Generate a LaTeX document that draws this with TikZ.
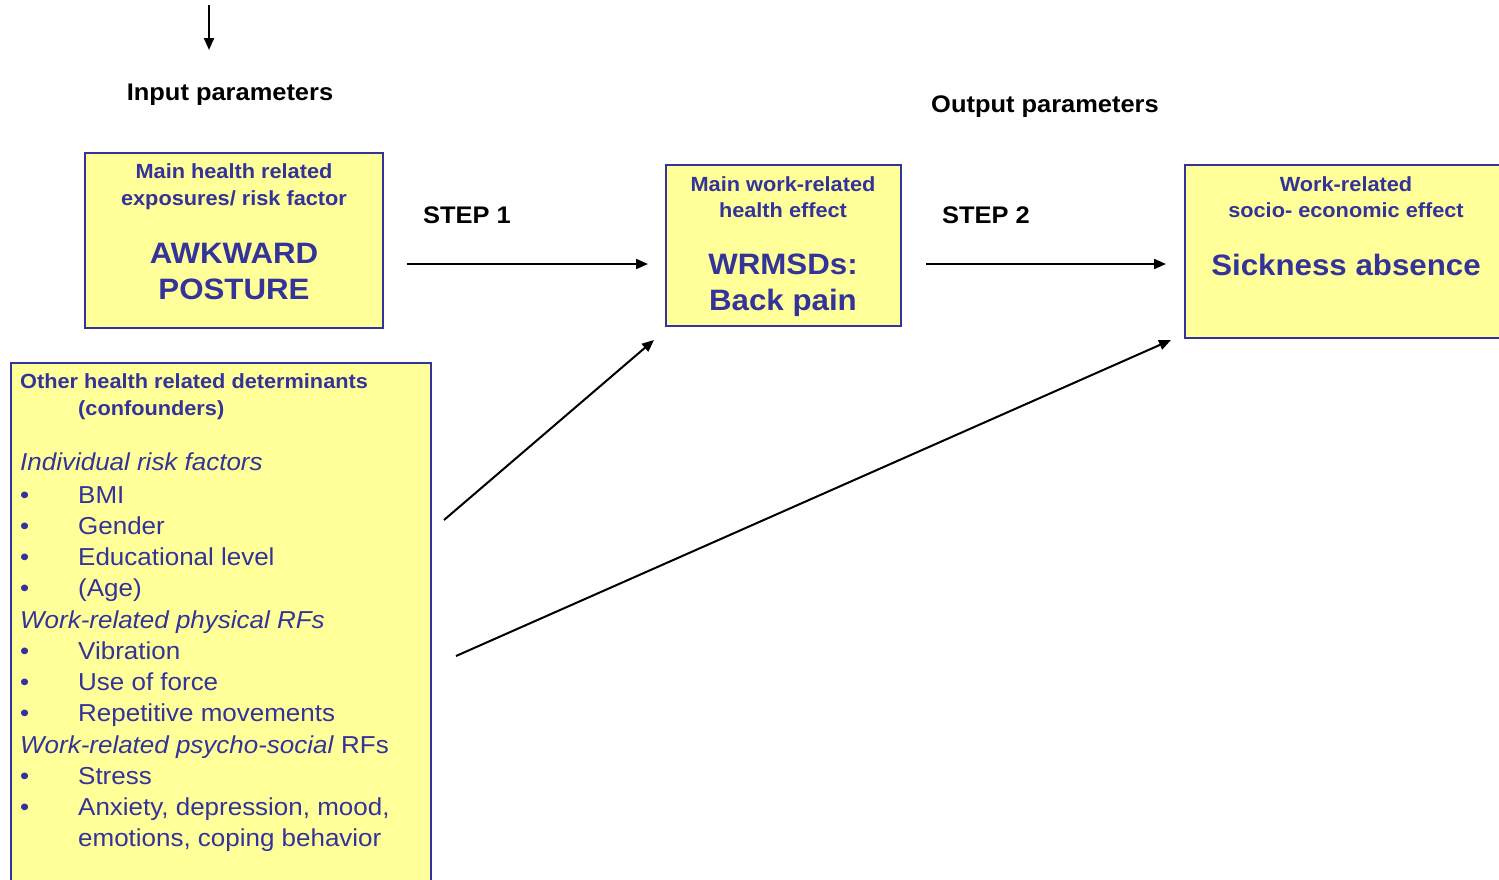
\documentclass[tikz,border=0pt]{standalone}
\usepackage{fontspec}
\setmainfont[FakeStretch=1.06]{Liberation Sans}
\usetikzlibrary{arrows.meta}
\definecolor{navy}{RGB}{51,51,153}
\definecolor{paleyellow}{RGB}{255,255,153}

\begin{document}
\begin{tikzpicture}[x=1pt,y=-1pt,
  box/.style={draw=navy, fill=paleyellow, line width=1.5pt},
  title/.style={text=navy, font=\fontsize{20.5}{24}\selectfont\bfseries, inner sep=0pt, anchor=base},
  big/.style={text=navy, font=\fontsize{29.5}{34}\selectfont\bfseries, inner sep=0pt, anchor=base},
  head/.style={font=\fontsize{24}{28}\selectfont\bfseries, inner sep=0pt, anchor=base},
  item/.style={text=navy, font=\fontsize{24.5}{28}\selectfont, inner sep=0pt, anchor=base west},
  arr/.style={-{Triangle[length=12pt,width=10pt]}, line width=2pt}]
\clip (0,0) rectangle (1499,879);
\fill[white] (0,0) rectangle (1499,879);

\node[head] (input) at (230,100) {Input parameters};
\node[head] (output) at (1045,112) {Output parameters};
\node[head, anchor=base west] (step1) at (423,223) {STEP 1};
\node[head, anchor=base west] (step2) at (942,223) {STEP 2};

\node[box, minimum width=298pt, minimum height=175pt] (posture) at (234,240.5) {};
\node[title] (postureA) at (234,178) {Main health related};
\node[title] (postureB) at (234,205) {exposures/ risk factor};
\node[big] (postureC) at (234,263) {AWKWARD};
\node[big] (postureD) at (234,299) {POSTURE};

\node[box, minimum width=235pt, minimum height=161pt] (wrmsd) at (783.5,245.5) {};
\node[title] (wrmsdA) at (783,191) {Main work-related};
\node[title] (wrmsdB) at (783,217) {health effect};
\node[big] (wrmsdC) at (783,274) {WRMSDs:};
\node[big] (wrmsdD) at (783,310) {Back pain};

\node[box, minimum width=335pt, minimum height=173pt] (absence) at (1352.5,251.5) {};
\node[title] (absenceA) at (1346,191) {Work-related};
\node[title] (absenceB) at (1346,217) {socio- economic effect};
\node[big] (absenceC) at (1346,275) {Sickness absence};

\node[box, minimum width=420pt, minimum height=540pt] (confound) at (221,633) {};
\node[title, anchor=base west] (confA) at (20,388) {Other health related determinants};
\node[title, anchor=base west] (confB) at (78,415) {(confounders)};
\node[item] (confC) at (20,470) {\itshape Individual risk factors};
\node[item] at (20,503) {\textbullet};    \node[item] at (78,503) {BMI};
\node[item] at (20,534.25) {\textbullet}; \node[item] at (78,534.25) {Gender};
\node[item] at (20,565.5) {\textbullet};  \node[item] at (78,565.5) {Educational level};
\node[item] at (20,596.75) {\textbullet}; \node[item] at (78,596.75) {(Age)};
\node[item] (confD) at (20,628) {\itshape Work-related physical RFs};
\node[item] at (20,659.25) {\textbullet}; \node[item] at (78,659.25) {Vibration};
\node[item] at (20,690.5) {\textbullet};  \node[item] at (78,690.5) {Use of force};
\node[item] at (20,721.75) {\textbullet}; \node[item] at (78,721.75) {Repetitive movements};
\node[item] (confE) at (20,753) {\textit{Work-related psycho-social} RFs};
\node[item] at (20,784.25) {\textbullet}; \node[item] at (78,784.25) {Stress};
\node[item] at (20,815.5) {\textbullet};  \node[item] at (78,815.5) {Anxiety, depression, mood,};
\node[item] at (78,846.75) {emotions, coping behavior};

\coordinate (in0) at (209,5);
\coordinate (in1) at (209,50);
\coordinate (s1a) at (407,264);
\coordinate (s1b) at (648,264);
\coordinate (s2a) at (926,264);
\coordinate (s2b) at (1166,264);
\coordinate (c1a) at (444,520);
\coordinate (c1b) at (654,340);
\coordinate (c2a) at (456,656);
\coordinate (c2b) at (1171,340);

\draw[arr] (in0) -- (in1);
\draw[arr] (s1a) -- (s1b);
\draw[arr] (s2a) -- (s2b);
\draw[arr] (c1a) -- (c1b);
\draw[arr] (c2a) -- (c2b);
\end{tikzpicture}
\end{document}
